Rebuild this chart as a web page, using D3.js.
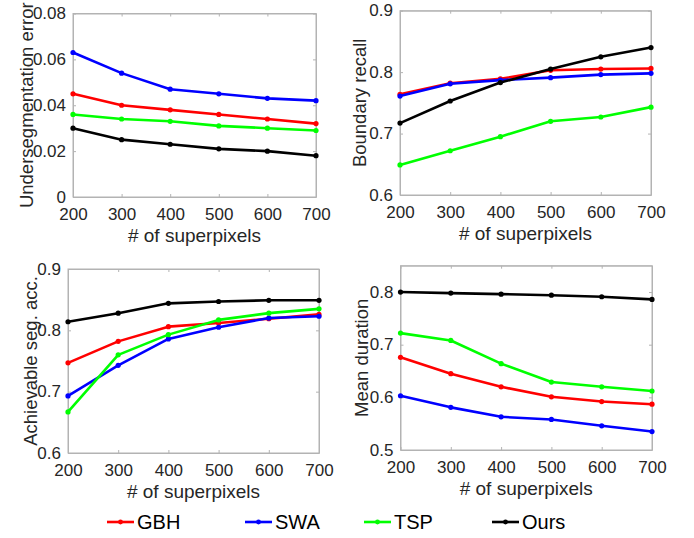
<!DOCTYPE html>
<html><head><meta charset="utf-8">
<script src="https://cdn.jsdelivr.net/npm/d3@7"></script>
<style>body{margin:0;background:#fff}svg{display:block}</style>
</head><body>
<svg id="c" width="694" height="538"></svg>
<script>
// ---- data ----
const xValues = [200, 300, 400, 500, 600, 700];
const seriesNames = ["GBH", "SWA", "TSP", "Ours"];
const seriesColors = ["#ff0000", "#0000ff", "#00ff00", "#000000"];

const xTickLabels = ["200", "300", "400", "500", "600", "700"];
const xAxisTitle = "# of superpixels";

// Panel 1: Undersegmentation error
const ueTitle = "Undersegmentation error";
const ueTicks = [0, 0.02, 0.04, 0.06, 0.08];
const ueGBH  = [0.045, 0.040, 0.038, 0.036, 0.034, 0.032];
const ueSWA  = [0.063, 0.054, 0.047, 0.045, 0.043, 0.042];
const ueTSP  = [0.036, 0.034, 0.033, 0.031, 0.030, 0.029];
const ueOurs = [0.030, 0.025, 0.023, 0.021, 0.020, 0.018];

// Panel 2: Boundary recall
const brTitle = "Boundary recall";
const brTicks = [0.6, 0.7, 0.8, 0.9];
const brGBH  = [0.764, 0.782, 0.789, 0.803, 0.805, 0.806];
const brSWA  = [0.761, 0.781, 0.787, 0.791, 0.796, 0.798];
const brTSP  = [0.649, 0.672, 0.695, 0.720, 0.727, 0.743];
const brOurs = [0.717, 0.753, 0.783, 0.805, 0.825, 0.840];

// Panel 3: Achievable seg. acc.
const asaTitle = "Achievable seg. acc.";
const asaTicks = [0.6, 0.7, 0.8, 0.9];
const asaGBH  = [0.747, 0.782, 0.806, 0.812, 0.819, 0.826];
const asaSWA  = [0.693, 0.743, 0.786, 0.805, 0.820, 0.823];
const asaTSP  = [0.667, 0.760, 0.793, 0.817, 0.828, 0.835];
const asaOurs = [0.814, 0.828, 0.844, 0.847, 0.849, 0.849];

// Panel 4: Mean duration
const mdTitle = "Mean duration";
const mdTicks = [0.5, 0.6, 0.7, 0.8];
const mdGBH  = [0.676, 0.645, 0.620, 0.601, 0.592, 0.587];
const mdSWA  = [0.603, 0.581, 0.563, 0.558, 0.546, 0.535];
const mdTSP  = [0.722, 0.708, 0.664, 0.629, 0.620, 0.612];
const mdOurs = [0.800, 0.798, 0.796, 0.794, 0.791, 0.786];

// ---- layout ----
const panels = [
  {title: ueTitle, ticks: ueTicks, domain: [0, 0.08], fmt: d => d === 0 ? "0" : d3.format(".2f")(d),
   series: [ueGBH, ueSWA, ueTSP, ueOurs], x0: 73, x1: 316, y0: 13.5, y1: 197, ylabX: 26},
  {title: brTitle, ticks: brTicks, domain: [0.6, 0.9], fmt: d3.format(".1f"),
   series: [brGBH, brSWA, brTSP, brOurs], x0: 400, x1: 651, y0: 10.7, y1: 195, ylabX: 359},
  {title: asaTitle, ticks: asaTicks, domain: [0.6, 0.9], fmt: d3.format(".1f"),
   series: [asaGBH, asaSWA, asaTSP, asaOurs], x0: 68, x1: 319, y0: 269, y1: 453, ylabX: 30},
  {title: mdTitle, ticks: mdTicks, domain: [0.5, 0.85], fmt: d3.format(".1f"),
   series: [mdGBH, mdSWA, mdTSP, mdOurs], x0: 400.5, x1: 652, y0: 265.7, y1: 450, ylabX: 361}
];

const svg = d3.select("#c");
const font = "'Liberation Sans', Arial, Helvetica, sans-serif";
const boxColor = "#b3b3b3";
const textColor = "#262626";

panels.forEach(p => {
  const x = d3.scaleLinear().domain([200, 700]).range([p.x0, p.x1]);
  const y = d3.scaleLinear().domain(p.domain).range([p.y1, p.y0]);
  const g = svg.append("g");

  g.append("rect").attr("x", p.x0).attr("y", p.y0)
    .attr("width", p.x1 - p.x0).attr("height", p.y1 - p.y0)
    .attr("fill", "#fff").attr("stroke", boxColor).attr("stroke-width", 1);

  const ax = d3.axisBottom(x).tickValues(xValues).tickFormat((d, i) => xTickLabels[i]).tickSizeInner(-3).tickSizeOuter(0).tickPadding(11);
  const gx = g.append("g").attr("transform", `translate(0,${p.y1})`).call(ax);
  const axT = d3.axisTop(x).tickValues(xValues).tickFormat("").tickSizeInner(-3).tickSizeOuter(0);
  const gxt = g.append("g").attr("transform", `translate(0,${p.y0})`).call(axT);
  const ay = d3.axisLeft(y).tickValues(p.ticks).tickFormat(p.fmt).tickSizeInner(-3).tickSizeOuter(0).tickPadding(7);
  const gy = g.append("g").attr("transform", `translate(${p.x0},0)`).call(ay);
  const ayR = d3.axisRight(y).tickValues(p.ticks).tickFormat("").tickSizeInner(-3).tickSizeOuter(0);
  const gyr = g.append("g").attr("transform", `translate(${p.x1},0)`).call(ayR);
  [gx, gxt, gy, gyr].forEach(a => {
    a.select(".domain").attr("stroke", boxColor);
    a.selectAll(".tick line").attr("stroke", boxColor);
    a.selectAll(".tick text").attr("fill", textColor).attr("font-family", font).attr("font-size", 17);
  });
  gy.selectAll(".tick text").attr("dy", "0.3em");

  g.append("text").attr("x", (p.x0 + p.x1) / 2).attr("y", p.y1 + 45)
    .attr("text-anchor", "middle").attr("font-family", font).attr("font-size", 19)
    .attr("fill", textColor).text(xAxisTitle);
  g.append("text").attr("transform", `translate(${p.ylabX},${(p.y0 + p.y1) / 2}) rotate(-90)`)
    .attr("text-anchor", "middle").attr("dominant-baseline", "central")
    .attr("font-family", font).attr("font-size", 18.5)
    .attr("fill", textColor).text(p.title);

  const line = d3.line().x((d, i) => x(xValues[i])).y(d => y(d));
  p.series.forEach((s, si) => {
    g.append("path").datum(s).attr("d", line).attr("fill", "none")
      .attr("stroke", seriesColors[si]).attr("stroke-width", 2.6).attr("stroke-linejoin", "round");
    g.selectAll(null).data(s).enter().append("circle")
      .attr("cx", (d, i) => x(xValues[i])).attr("cy", d => y(d)).attr("r", 2.6)
      .attr("fill", seriesColors[si]);
  });
});

// legend
const legendX = [107, 245, 364, 492];
const legendY = 522;
seriesNames.forEach((n, i) => {
  const lg = svg.append("g");
  lg.append("line").attr("x1", legendX[i]).attr("x2", legendX[i] + 27)
    .attr("y1", legendY).attr("y2", legendY).attr("stroke", seriesColors[i]).attr("stroke-width", 2.6);
  lg.append("circle").attr("cx", legendX[i] + 13.5).attr("cy", legendY).attr("r", 2.4).attr("fill", seriesColors[i]);
  lg.append("text").attr("x", legendX[i] + 30).attr("y", legendY).attr("dominant-baseline", "central")
    .attr("font-family", font).attr("font-size", 20).attr("fill", "#000").text(n);
});
</script>
</body></html>
